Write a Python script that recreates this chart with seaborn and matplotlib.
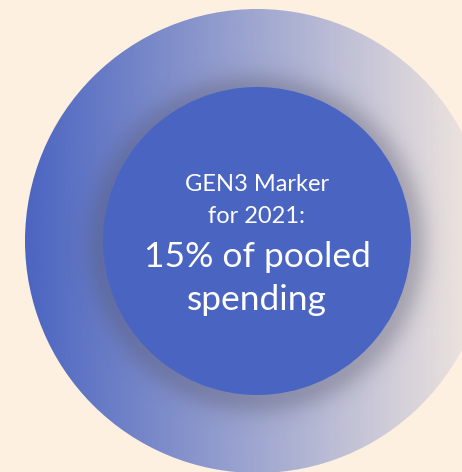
import numpy as np
import matplotlib
matplotlib.use("Agg")
import matplotlib.pyplot as plt
from matplotlib.patches import Circle
import seaborn as sns

# Textos del gráfico
header_lines = ["GEN3 Marker", "for 2021:"]
value_lines = ["15% of pooled", "spending"]
marker_share = 15  # porcentaje del gasto agrupado

# Colores
bg_color = "#fdf0e1"
blue = "#4a64c1"
text_color = "#ffffff"

sns.set_theme(style="white")
plt.rcParams['font.family'] = ['Lato', 'DejaVu Sans']

W, H = 462, 472
fig = plt.figure(figsize=(W / 100, H / 100), dpi=100)
fig.patch.set_facecolor(bg_color)
ax = fig.add_axes([0, 0, 1, 1])
ax.set_xlim(0, W)
ax.set_ylim(H, 0)
ax.set_facecolor(bg_color)
ax.axis("off")

cx, cy = 257, 241
r_out, r_in = 232, 154

# Circulo exterior con degradado horizontal (azul -> transparente)
rgb = np.array(matplotlib.colors.to_rgb(blue))
n = 400
alpha = np.linspace(1.0, 0.05, n)
grad = np.zeros((1, n, 4))
grad[0, :, :3] = rgb
grad[0, :, 3] = alpha
outer = Circle((cx, cy), r_out, facecolor="none", edgecolor="none")
ax.add_patch(outer)
im = ax.imshow(grad, extent=[cx - r_out, cx + r_out, cy + r_out, cy - r_out],
               aspect="auto", interpolation="bilinear", zorder=1)
im.set_clip_path(outer)

# Sombra suave del circulo interior
gx, gy = np.meshgrid(np.arange(W) + 0.5, np.arange(H) + 0.5)
d = np.hypot(gx - cx, gy - (cy + 3))
sh = np.clip(d - r_in, 0, None)
sh_alpha = 0.33 * np.exp(-(sh / 18.0) ** 2)
sh_alpha[d < r_in] = 0.33
shadow = np.zeros((H, W, 4))
shadow[..., :3] = matplotlib.colors.to_rgb("#505064")
shadow[..., 3] = sh_alpha
im2 = ax.imshow(shadow, extent=[0, W, H, 0], interpolation="bilinear", zorder=2)
im2.set_clip_path(outer)

# Circulo interior
ax.add_patch(Circle((cx, cy), r_in, facecolor=blue, edgecolor="none", zorder=3))

# Texto
ax.text(cx, 191, header_lines[0], color=text_color, fontsize=17, ha="center", va="baseline", zorder=4)
ax.text(cx, 223, header_lines[1], color=text_color, fontsize=17, ha="center", va="baseline", zorder=4)
ax.text(cx, 267, value_lines[0], color=text_color, fontsize=25.5, ha="center", va="baseline", zorder=4)
ax.text(cx, 310, value_lines[1], color=text_color, fontsize=25.5, ha="center", va="baseline", zorder=4)

fig.savefig("out.png", dpi=100, facecolor=bg_color)
